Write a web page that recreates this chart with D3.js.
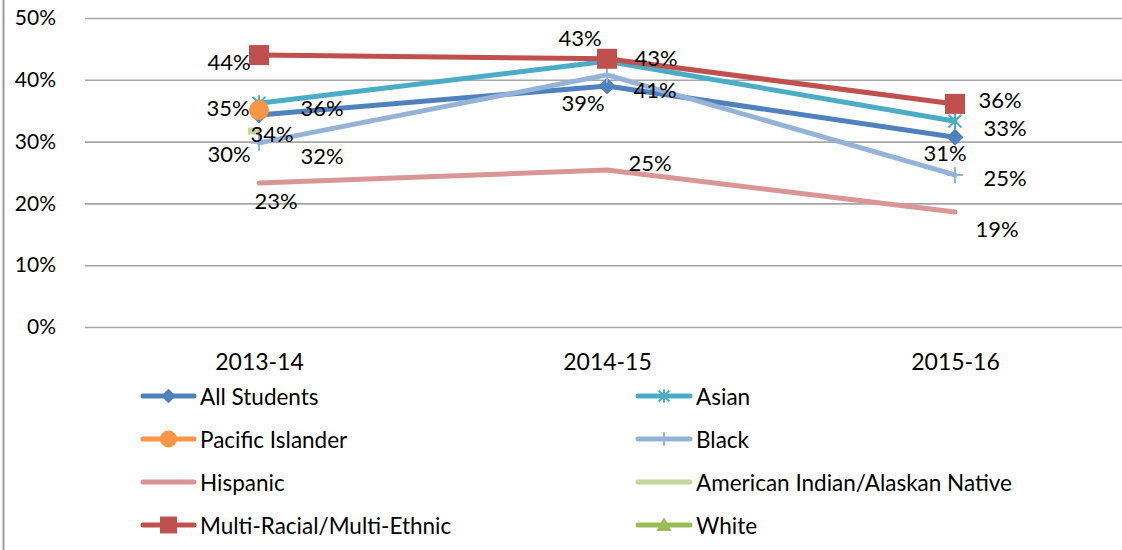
<!DOCTYPE html>
<html><head><meta charset="utf-8">
<script src="https://cdn.jsdelivr.net/npm/d3@7/dist/d3.min.js"></script>
<style>
html,body{margin:0;padding:0;background:#fff;}
svg{display:block;font-family:Lato,"Open Sans",sans-serif;}
</style></head>
<body>
<svg id="chart" width="1122" height="550"></svg>
<script>
// ---- data ----
const categories = ["2013-14", "2014-15", "2015-16"];
const yTicks = [0, 10, 20, 30, 40, 50];
const seriesNames = ["All Students", "Asian", "Pacific Islander", "Black", "Hispanic",
  "American Indian/Alaskan Native", "Multi-Racial/Multi-Ethnic", "White"];
const allStudents = [34.3, 39.0, 30.7];
const asian = [36.2, 43.0, 33.3];
const pacificIslander = [35.1, null, null];
const black = [29.8, 40.8, 24.6];
const hispanic = [23.3, 25.4, 18.6];
const americanIndian = [31.7, null, null];
const multiRacial = [44.0, 43.4, 36.1];
const white = [null, null, null];

// ---- styles (not data) ----
const styles = {
  "All Students": {color: "#4F81BD", marker: "diamond"},
  "Asian": {color: "#4BACC6", marker: "asterisk"},
  "Pacific Islander": {color: "#F79646", marker: "circle"},
  "Black": {color: "#95B3D7", marker: "plus"},
  "Hispanic": {color: "#D99694", marker: "none"},
  "American Indian/Alaskan Native": {color: "#C3D69B", marker: "none"},
  "Multi-Racial/Multi-Ethnic": {color: "#C0504D", marker: "square"},
  "White": {color: "#9BBB59", marker: "triangle"}
};
// label offsets (dx, dy) from the point, per series per category
const labelOffsets = {
  "All Students": [[13, 18], [-24, 17], [-10, 15]],
  "Asian": [[63, 4], [49, -4], [50, 6]],
  "Pacific Islander": [[-31, -3], null, null],
  "Black": [[-30, 11], [48, 15], [50, 3]],
  "Hispanic": [[17, 17], [43, -8], [42, 16]],
  "American Indian/Alaskan Native": [[63, 24], null, null],
  "Multi-Racial/Multi-Ethnic": [[-30, 6], [-27, -21], [45, -4]],
  "White": [null, null, null]
};

const seriesValues = [allStudents, asian, pacificIslander, black, hispanic, americanIndian, multiRacial, white];
const series = seriesNames.map((n, i) => ({name: n, values: seriesValues[i]}));

const svg = d3.select("#chart");
const W = 1122, H = 550;
const plotLeft = 85, plotRight = 1129, plotTop = 18, plotBottom = 327;

const x = d3.scalePoint().domain(categories).range([plotLeft, plotRight]).padding(0.5);
const y = d3.scaleLinear().domain([0, 50]).range([plotBottom, plotTop]);

// outer border (left edge visible)
svg.append("line").attr("x1", 3.5).attr("x2", 3.5).attr("y1", 0).attr("y2", H)
  .attr("stroke", "#9A9A9A").attr("stroke-width", 2);

// y axis with gridlines
const yAxis = d3.axisLeft(y).tickValues(yTicks).tickFormat(d => d + "%")
  .tickSize(-(plotRight - plotLeft)).tickPadding(29);
const gy = svg.append("g").attr("transform", `translate(${plotLeft},0)`).call(yAxis);
gy.select(".domain").remove();
gy.selectAll(".tick line").attr("stroke", "#A6A6A6").attr("stroke-width", 1.6);
gy.selectAll(".tick text").attr("font-size", 21).attr("fill", "#000").attr("font-family", "Lato");

// x axis labels
const xAxis = d3.axisBottom(x).tickSize(0).tickPadding(0);
const gx = svg.append("g").attr("transform", `translate(0,${plotBottom + 27})`).call(xAxis);
gx.select(".domain").remove();
gx.selectAll(".tick text").attr("font-size", 23).attr("fill", "#000").attr("font-family", "Lato");

// marker drawing
function drawMarker(g, type, color, cx, cy, scale) {
  scale = scale || 1;
  if (type === "diamond") {
    const s = 8.5 * scale;
    g.append("path").attr("d", `M${cx},${cy - s}L${cx + s},${cy}L${cx},${cy + s}L${cx - s},${cy}Z`).attr("fill", color);
  } else if (type === "square") {
    const s = 10 * scale;
    g.append("rect").attr("x", cx - s).attr("y", cy - s).attr("width", 2 * s).attr("height", 2 * s).attr("fill", color);
  } else if (type === "circle") {
    g.append("circle").attr("cx", cx).attr("cy", cy).attr("r", 10 * scale).attr("fill", color);
  } else if (type === "triangle") {
    const s = 9 * scale;
    g.append("path").attr("d", `M${cx},${cy - s}L${cx + s},${cy + s * 0.8}L${cx - s},${cy + s * 0.8}Z`).attr("fill", color);
  } else if (type === "plus") {
    const s = 8 * scale;
    g.append("path").attr("d", `M${cx - s},${cy}H${cx + s}M${cx},${cy - s}V${cy + s}`)
      .attr("stroke", color).attr("stroke-width", 2).attr("fill", "none");
  } else if (type === "asterisk") {
    const s = 8 * scale;
    const d = s * 0.8;
    g.append("path").attr("d", `M${cx - d},${cy - d}L${cx + d},${cy + d}M${cx + d},${cy - d}L${cx - d},${cy + d}M${cx},${cy - s}V${cy + s}`)
      .attr("stroke", color).attr("stroke-width", 2).attr("fill", "none");
  }
}

// lines
const line = d3.line().defined(d => d.v != null).x(d => x(d.c)).y(d => y(d.v));
const seriesG = svg.append("g");
series.forEach(s => {
  const st = styles[s.name];
  const pts = s.values.map((v, i) => ({c: categories[i], v}));
  const valid = pts.filter(p => p.v != null);
  const g = seriesG.append("g");
  if (valid.length > 1) {
    g.append("path").datum(pts).attr("d", line).attr("fill", "none")
      .attr("stroke", st.color).attr("stroke-width", 5).attr("stroke-linejoin", "round").attr("stroke-linecap", "round");
  } else if (valid.length === 1 && st.marker === "none") {
    const p = valid[0];
    g.append("rect").attr("x", x(p.c) - 11).attr("y", y(p.v) - 3.5).attr("width", 12).attr("height", 7)
      .attr("fill", st.color);
  }
  valid.forEach(p => drawMarker(g, st.marker, st.color, x(p.c), y(p.v)));
});

// data labels
const labelG = svg.append("g");
series.forEach(s => {
  s.values.forEach((v, i) => {
    if (v == null) return;
    const off = labelOffsets[s.name][i];
    if (!off) return;
    labelG.append("text")
      .attr("x", x(categories[i]) + off[0]).attr("y", y(v) + off[1])
      .attr("text-anchor", "middle").attr("dominant-baseline", "central")
      .attr("font-size", 22).attr("fill", "#000").attr("font-family", "Lato")
      .text(Math.round(v) + "%");
  });
});

// legend
const legendCols = [{lx: 141, tx: 200}, {lx: 636, tx: 696}];
const legendRows = [396, 439, 482, 525];
const legend = svg.append("g");
series.forEach((s, i) => {
  const st = styles[s.name];
  const col = legendCols[i % 2], row = legendRows[Math.floor(i / 2)];
  const lx2 = col.tx - 4;
  legend.append("line").attr("x1", col.lx + 2).attr("x2", lx2 - 2).attr("y1", row).attr("y2", row)
    .attr("stroke", st.color).attr("stroke-width", 5).attr("stroke-linecap", "round");
  drawMarker(legend, st.marker, st.color, (col.lx + lx2) / 2, row, 0.85);
  legend.append("text").attr("x", col.tx).attr("y", row).attr("dominant-baseline", "central")
    .attr("font-size", 22.5).attr("fill", "#000").attr("font-family", "Lato").text(s.name);
});
</script>
</body></html>
